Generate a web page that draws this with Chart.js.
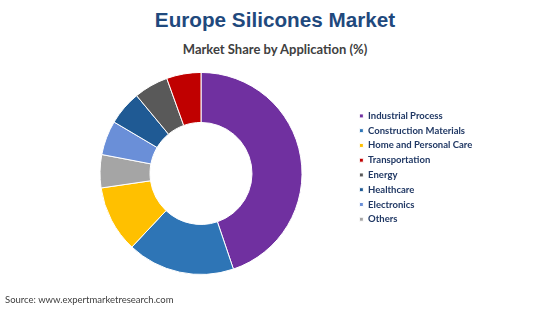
<!DOCTYPE html>
<html lang="en">
<head>
    <meta charset="UTF-8">
    <title>Europe Silicones Market</title>
    <script src="https://cdn.jsdelivr.net/npm/chart.js"></script>
    <style>
        body {
            margin: 0;
            background: #ffffff;
        }
        .wrap {
            position: relative;
            width: 550px;
            height: 309px;
        }
        #marketChart {
            position: absolute;
            left: 0;
            top: 0;
        }
        .title, .subtitle {
            position: absolute;
            left: 0;
            width: 550px;
            text-align: center;
            font-weight: bold;
            white-space: nowrap;
        }
        .title {
            top: 8px;
            line-height: 24px;
            font-family: "Liberation Sans", Arial, sans-serif;
            font-size: 20.7px;
            color: #1f497d;
        }
        .subtitle {
            top: 41px;
            line-height: 16px;
            font-family: Lato, sans-serif;
            font-size: 13px;
            color: #404040;
        }
        .source {
            position: absolute;
            left: 5px;
            top: 294px;
            font-family: Lato, sans-serif;
            font-size: 9.5px;
            color: #404040;
        }
    </style>
</head>
<body>
    <div class="wrap">
        <div class="title">Europe Silicones Market</div>
        <div class="subtitle">Market Share by Application (%)</div>
        <canvas id="marketChart" width="550" height="309"></canvas>
        <div class="source">Source: www.expertmarketresearch.com</div>
    </div>

    <script>
        // slices, clockwise from 12 o'clock
        const applications = ['Industrial Process', 'Construction Materials', 'Home and Personal Care', 'Others',
            'Electronics', 'Healthcare', 'Energy', 'Transportation'];
        const shares = [44.8, 17.2, 10.7, 5.3, 5.5, 5.5, 5.5, 5.5];
        const sliceColors = ['#7030a0', '#2e75b6', '#ffc000', '#a5a5a5', '#6a8fd8', '#1f5a94', '#595959', '#c00000'];
        // legend is listed in another order than the slices
        const legendOrder = ['Industrial Process', 'Construction Materials', 'Home and Personal Care', 'Transportation',
            'Energy', 'Healthcare', 'Electronics', 'Others'];

        const legendFont = { family: 'Lato', size: 9.5, weight: 'bold' };
        const legendPad = 5.26;
        const boxW = 4;

        // measure the widest legend label so the legend lands where it should
        const mctx = document.createElement('canvas').getContext('2d');
        mctx.font = 'bold 9.5px Lato';
        const maxTextW = Math.max(...legendOrder.map(s => mctx.measureText(s).width));
        const legendLeft = 354.1;
        const legendWidth = legendPad + boxW + legendFont.size / 2 + maxTextW + 10;
        const padRight = 550 - legendLeft - legendWidth;
        const padLeft = 2 * 201 - legendLeft;

        new Chart(document.getElementById('marketChart'), {
            type: 'doughnut',
            data: {
                labels: applications,
                datasets: [{
                    data: shares,
                    backgroundColor: sliceColors,
                    borderColor: '#ffffff',
                    borderWidth: 1,
                    clip: false
                }]
            },
            options: {
                responsive: false,
                animation: false,
                radius: 101,
                cutout: '50.5%',
                layout: {
                    padding: { left: padLeft, right: padRight, top: 105.9, bottom: 68 }
                },
                plugins: {
                    legend: {
                        position: 'right',
                        align: 'start',
                        fullSize: false,
                        labels: {
                            boxWidth: boxW,
                            boxHeight: 4,
                            padding: legendPad,
                            color: '#203864',
                            font: legendFont,
                            sort: (a, b) => legendOrder.indexOf(a.text) - legendOrder.indexOf(b.text)
                        }
                    },
                    tooltip: { enabled: false }
                }
            }
        });
    </script>
</body>
</html>
